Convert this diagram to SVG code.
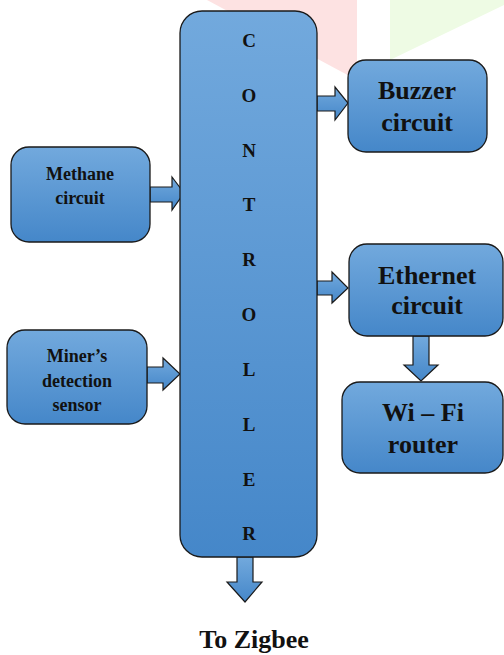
<svg xmlns="http://www.w3.org/2000/svg" width="504" height="655" viewBox="0 0 504 655">
<defs>
<linearGradient id="g" x1="0" y1="0" x2="0" y2="1">
<stop offset="0" stop-color="#72a9dd"/>
<stop offset="1" stop-color="#4587c9"/>
</linearGradient>
<style>
.box{fill:url(#g);stroke:#1a1a1a;stroke-width:1.3}
.arr{fill:url(#g);stroke:#1a1a1a;stroke-width:1.2;stroke-linejoin:miter}
text{font-weight:bold;fill:#111;text-anchor:middle}
.s{font-size:18px}
.l{font-size:26px}
.c{font-size:19px}
</style>
</defs>
<rect width="504" height="655" fill="#fff"/>
<polygon points="207,0 357,0 357,80" fill="#fde2e2"/>
<polygon points="390,0 504,0 504,5 390,60" fill="#eefbe4"/>
<g id="connectors">
<polygon class="arr" points="150,187 172,187 172,177 184,193 172,210 172,202 150,202"/>
<polygon class="arr" points="147,367 163,367 163,358 180,374 163,390 163,383 147,383"/>
<polygon class="arr" points="317,96 335,96 335,87 348,103 335,120 335,111 317,111"/>
<polygon class="arr" points="317,281 332,281 332,272 348,288 332,303 332,295 317,295"/>
<polygon class="arr" points="413,336 429,336 429,365 438,365 421,381 404,365 413,365"/>
<polygon class="arr" points="237,557 253,557 253,582 262,582 245,602 227,582 237,582"/>
</g>
<g font-family="'Liberation Serif', 'DejaVu Serif', serif">
<g id="controller">
<rect class="box" x="180" y="11" width="137" height="546" rx="22"/>
<text class="c" x="249" y="47">C</text>
<text class="c" x="249" y="102">O</text>
<text class="c" x="249" y="157">N</text>
<text class="c" x="249" y="211">T</text>
<text class="c" x="249" y="266">R</text>
<text class="c" x="249" y="321">O</text>
<text class="c" x="249" y="376">L</text>
<text class="c" x="249" y="431">L</text>
<text class="c" x="249" y="486">E</text>
<text class="c" x="249" y="540">R</text>
</g>
<g id="methane">
<rect class="box" x="11" y="147" width="139" height="95" rx="18"/>
<text class="s" x="80" y="180">Methane</text>
<text class="s" x="80" y="204">circuit</text>
</g>
<g id="miner">
<rect class="box" x="7" y="330" width="140" height="94" rx="18"/>
<text class="s" x="77" y="362">Miner’s</text>
<text class="s" x="77" y="387">detection</text>
<text class="s" x="77" y="411">sensor</text>
</g>
<g id="buzzer">
<rect class="box" x="348" y="60" width="139" height="92" rx="18"/>
<text class="l" x="417" y="99">Buzzer</text>
<text class="l" x="417" y="131">circuit</text>
</g>
<g id="ethernet">
<rect class="box" x="349" y="244" width="154" height="92" rx="18"/>
<text class="l" x="427" y="284">Ethernet</text>
<text class="l" x="427" y="314">circuit</text>
</g>
<g id="wifi">
<rect class="box" x="342" y="382" width="161" height="91" rx="18"/>
<text class="l" x="423" y="421">Wi – Fi</text>
<text class="l" x="423" y="453">router</text>
</g>
<g id="zigbee">
<text class="l" x="254" y="648">To Zigbee</text>
</g>
</g>
</svg>
